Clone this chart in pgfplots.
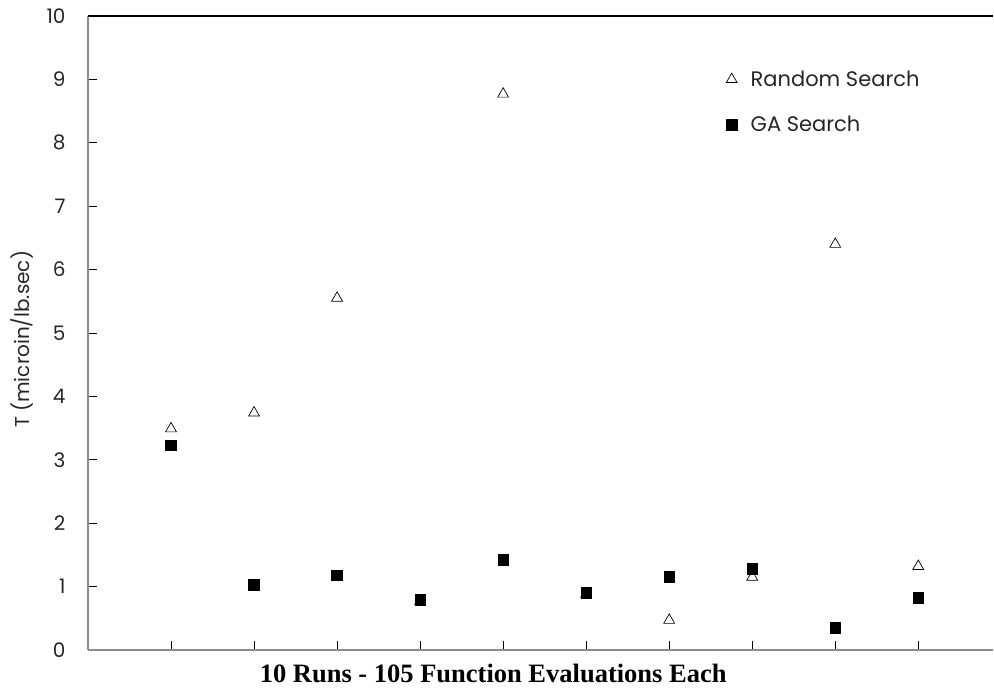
\documentclass[border=0pt]{standalone}
\usepackage{pgfplots}
\pgfplotsset{compat=1.18}
\usepackage{fontspec}
\setmainfont{Poppins}
\newfontfamily\serifbf{Liberation Serif}
\begin{document}
\begin{tikzpicture}[x=1pt,y=1pt]
\path[use as bounding box] (0,0) rectangle (994,689);
\begin{axis}[
  at={(88pt,39pt)}, anchor=south west,
  scale only axis, width=905pt, height=634pt,
  xmin=0, xmax=10.9, ymin=0, ymax=10,
  axis x line*=bottom, axis y line*=left,
  x axis line style={draw=gray!90, line width=1.8pt, -},
  y axis line style={draw=gray!90, line width=1.8pt, -},
  xtick={1,2,3,4,5,6,7,8,9,10}, xticklabels={},
  ytick={0,1,...,10},
  tick style={black, line width=0.9pt},
  major tick length=9pt,
  tick align=inside,
  /pgf/number format/assume math mode=true,
  ticklabel style={font=\fontsize{20}{22}\selectfont, color=black!85},
  yticklabel style={xshift=-19pt},
  xlabel={\serifbf\bfseries 10 Runs - 105 Function Evaluations Each},
  xlabel style={font=\fontsize{26.5}{28}\selectfont, at={(axis cs:4.88,0)}, anchor=center, yshift=-23pt},
  ylabel={T (microin/lb.sec)},
  ylabel style={font=\fontsize{20}{22}\selectfont, color=black!85, at={(rel axis cs:-0.0729,0.49)}, anchor=center},
  legend style={draw=none, fill=none, at={(rel axis cs:0.70,0.92)}, anchor=north west,
    font=\fontsize{21}{23}\selectfont, row sep=24pt, text=black!85},
  legend cell align=left,
  legend image code/.code={\draw[#1] plot coordinates {(0pt,0pt)}; \path[draw=none,fill=none] (-7pt,0pt) rectangle (17pt,0.1pt);},
  clip=false,
]
\addplot[only marks, mark=triangle, mark size=6.3pt, mark options={black, fill=white, line width=0.7pt}]
coordinates {(1,3.49) (2,3.74) (3,5.55) (4,0.77) (5,8.77) (6,0.88) (7,0.47) (8,1.15) (9,6.40) (10,1.32)};
\addlegendentry{Random Search}
\addplot[only marks, mark=square*, mark size=5.4pt, mark options={black, fill=black}]
coordinates {(1,3.23) (2,1.03) (3,1.18) (4,0.79) (5,1.42) (6,0.90) (7,1.15) (8,1.28) (9,0.35) (10,0.82)};
\addlegendentry{GA Search}
\draw[black, line width=1.4pt] (rel axis cs:0,1) -- (rel axis cs:1,1);
\end{axis}
\end{tikzpicture}
\end{document}
